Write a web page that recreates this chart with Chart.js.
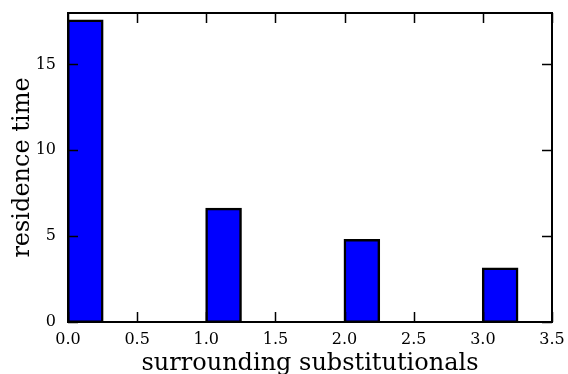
<!DOCTYPE html>
<html>
<head>
<meta charset="utf-8">
<script src="https://cdn.jsdelivr.net/npm/chart.js@4/dist/chart.umd.min.js"></script>
<style>
html,body{margin:0;padding:0;background:#fff;}
#wrap{width:568px;height:374px;position:relative;}
</style>
</head>
<body>
<div id="wrap"><canvas id="c" width="568" height="374"></canvas></div>
<script>
// Data
const categories = [0, 1, 2, 3];          // surrounding substitutionals (bar left edges)
const residenceTime = [17.56, 6.6, 4.77, 3.12];
const barWidth = 0.25;
const xTicks = [0, 0.5, 1, 1.5, 2, 2.5, 3, 3.5];
const yTicks = [0, 5, 10, 15];

const SERIF = '"DejaVu Serif", "Liberation Serif", serif';

const frameTicks = {
  id: 'frameTicks',
  afterDraw(chart) {
    const {ctx, chartArea: a, scales: {x, y}} = chart;
    ctx.save();
    ctx.strokeStyle = '#000';
    ctx.lineWidth = 1.5;
    const L = 10;
    ctx.beginPath();
    xTicks.forEach(v => {
      const px = Math.round(x.getPixelForValue(v)) + 0.5;
      ctx.moveTo(px, a.bottom); ctx.lineTo(px, a.bottom - L);
      ctx.moveTo(px, a.top); ctx.lineTo(px, a.top + L);
    });
    yTicks.forEach(v => {
      const py = Math.round(y.getPixelForValue(v)) + 0.5;
      ctx.moveTo(a.left, py); ctx.lineTo(a.left + L, py);
      ctx.moveTo(a.right, py); ctx.lineTo(a.right - L, py);
    });
    ctx.stroke();
    ctx.lineWidth = 2;
    ctx.strokeRect(a.left, a.top, a.right - a.left, a.bottom - a.top);
    ctx.restore();
  }
};

new Chart(document.getElementById('c'), {
  type: 'bar',
  data: {
    datasets: [{
      data: categories.map((c, i) => ({x: c + barWidth / 2, y: residenceTime[i]})),
      backgroundColor: '#0000ff',
      borderColor: '#000000',
      borderWidth: 2.5,
      borderSkipped: false,
      inflateAmount: 1,
      barPercentage: 0.5,
      categoryPercentage: 1.0
    }]
  },
  options: {
    responsive: false,
    animation: false,
    layout: {padding: {top: 13, right: 16, left: 0, bottom: 0}},
    plugins: {legend: {display: false}, tooltip: {enabled: false}},
    scales: {
      x: {
        type: 'linear',
        min: 0, max: 3.5,
        offset: false,
        grid: {display: false, drawTicks: false},
        border: {display: false},
        afterBuildTicks: s => { s.ticks = xTicks.map(v => ({value: v})); },
        afterFit: s => { s.height = 52; s.paddingLeft = 0; s.paddingRight = 0; },
        ticks: {
          padding: 8,
          color: '#000',
          font: {family: SERIF, size: 16},
          callback: v => Number(v).toFixed(1),
          maxRotation: 0
        },
        title: {
          display: true,
          text: 'surrounding substitutionals',
          color: '#000',
          font: {family: SERIF, size: 24},
          padding: {top: 0, bottom: -4}
        }
      },
      y: {
        min: 0, max: 18,
        grid: {display: false, drawTicks: false},
        border: {display: false},
        afterBuildTicks: s => { s.ticks = yTicks.map(v => ({value: v})); },
        afterFit: s => { s.width = 68; s.paddingTop = 0; s.paddingBottom = 0; },
        ticks: {
          padding: 12,
          color: '#000',
          font: {family: SERIF, size: 16}
        },
        title: {
          display: true,
          text: 'residence time',
          color: '#000',
          font: {family: SERIF, size: 24},
          padding: {top: 8, bottom: 0}
        }
      }
    }
  },
  plugins: [frameTicks]
});
</script>
</body>
</html>
